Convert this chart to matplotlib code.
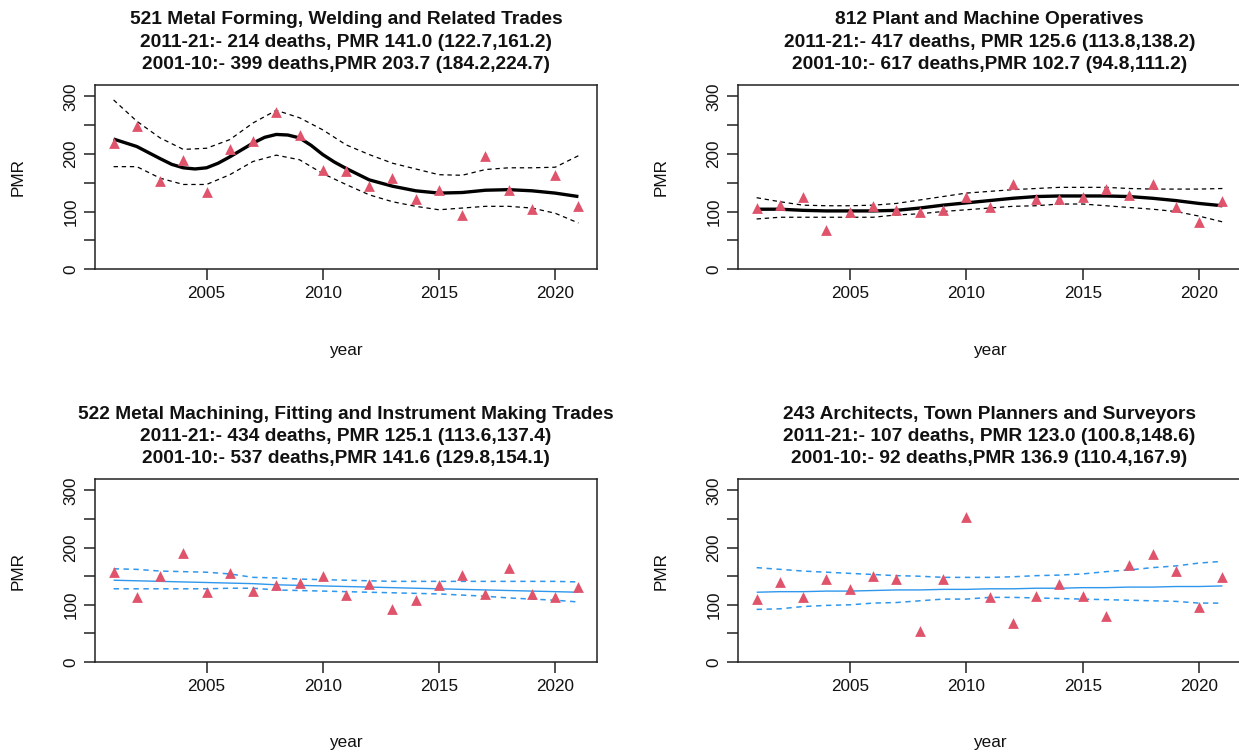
import matplotlib
matplotlib.use("Agg")
import matplotlib.pyplot as plt

plt.rcParams['font.family'] = ['Liberation Sans', 'DejaVu Sans']

years = list(range(2001, 2022))

# ---- Panel 1: 521 Metal Forming ----
title1 = ["521 Metal Forming, Welding and Related Trades",
          "2011-21:- 214 deaths, PMR 141.0 (122.7,161.2)",
          "2001-10:- 399 deaths,PMR 203.7 (184.2,224.7)"]
pmr1 = [220, 248, 153, 189, 134, 208, 223, 273, 233, 173, 171, 144, 158, 121, 138, 94, 196, 138, 105, 163, 110]
fit1_x = [2001, 2002, 2003, 2003.5, 2004, 2004.5, 2005, 2005.5, 2006, 2006.5, 2007, 2007.5, 2008, 2008.5,
          2009, 2009.5, 2010, 2010.5, 2011, 2012, 2013, 2014, 2015, 2016, 2017, 2018, 2019, 2020, 2021]
fit1 = [226, 213, 192, 182, 176, 174, 176, 184, 195, 207, 219, 229, 234, 233,
        228, 215, 199, 186, 175, 155, 144, 136, 132, 133, 137, 138, 136, 132, 126]
up1 = [294, 257, 228, 208, 210, 225, 254, 276, 263, 242, 216, 199, 184, 174, 164, 163, 173, 176, 176, 177, 197]
lo1 = [178, 178, 158, 147, 147, 164, 187, 198, 190, 166, 147, 129, 117, 109, 103, 106, 109, 109, 106, 97, 80]

# ---- Panel 2: 812 Plant and Machine Operatives ----
title2 = ["812 Plant and Machine Operatives",
          "2011-21:- 417 deaths, PMR 125.6 (113.8,138.2)",
          "2001-10:- 617 deaths,PMR 102.7 (94.8,111.2)"]
pmr2 = [106, 111, 126, 68, 99, 109, 103, 100, 103, 125, 108, 148, 122, 122, 125, 139, 129, 148, 107, 81, 118]
fit2 = [104, 104, 102, 101, 101, 101, 102, 106, 111, 115, 119, 123, 126, 127, 127, 127, 126, 123, 119, 114, 110]
up2 = [124, 117, 111, 110, 110, 111, 114, 120, 126, 132, 135, 138, 140, 142, 142, 142, 140, 139, 139, 139, 140]
lo2 = [87, 90, 90, 90, 90, 90, 94, 96, 100, 103, 106, 109, 110, 113, 113, 110, 107, 104, 100, 92, 82]

# ---- Panel 3: 522 Metal Machining ----
title3 = ["522 Metal Machining, Fitting and Instrument Making Trades",
          "2011-21:- 434 deaths, PMR 125.1 (113.6,137.4)",
          "2001-10:- 537 deaths,PMR 141.6 (129.8,154.1)"]
pmr3 = [158, 113, 150, 190, 122, 155, 125, 134, 138, 151, 117, 137, 93, 108, 135, 153, 119, 165, 119, 113, 132]
fit3 = [143, 142, 141, 140, 139, 138, 137, 135, 134, 133, 132, 131, 130, 129, 128, 127, 126, 125, 124, 123, 122]
up3 = [163, 162, 159, 158, 157, 154, 148, 147, 145, 144, 143, 142, 141, 141, 141, 141, 141, 141, 141, 141, 140]
lo3 = [128, 128, 128, 128, 128, 129, 129, 126, 125, 124, 123, 122, 121, 120, 119, 117, 115, 112, 110, 108, 105]

# ---- Panel 4: 243 Architects ----
title4 = ["243 Architects, Town Planners and Surveyors",
          "2011-21:- 107 deaths, PMR 123.0 (100.8,148.6)",
          "2001-10:- 92 deaths,PMR 136.9 (110.4,167.9)"]
pmr4 = [110, 140, 113, 146, 127, 150, 146, 55, 146, 253, 113, 68, 115, 137, 115, 81, 170, 189, 160, 97, 149]
fit4 = [122, 123, 123, 124, 124, 125, 126, 126, 127, 127, 128, 128, 129, 129, 130, 130, 131, 131, 132, 132, 133]
up4 = [165, 162, 159, 157, 155, 153, 151, 150, 148, 148, 148, 149, 151, 152, 154, 158, 161, 165, 168, 173, 176]
lo4 = [92, 93, 97, 99, 100, 103, 104, 107, 110, 110, 113, 113, 112, 111, 110, 109, 108, 107, 106, 103, 103]

POINT_COL = "#DF536B"
BLUE = "#2F97EC"
W, H = 1239, 756

fig = plt.figure(figsize=(W / 100, H / 100), dpi=100)


def px_axes(l, r, t, b):
    return fig.add_axes([l / W, 1 - b / H, (r - l) / W, (b - t) / H])


def panel(l, r, t, b, titles, pmr, fx, fit, up, lo, col, fit_lw, ci_lw):
    ax = px_axes(l, r, t, b)
    ax.plot(fx, fit, color=col, lw=fit_lw, solid_capstyle='butt', zorder=2)
    ax.plot(years, up, color=col, lw=ci_lw, dashes=(3.5, 3), zorder=2)
    ax.plot(years, lo, color=col, lw=ci_lw, dashes=(3.5, 3), zorder=2)
    ax.scatter(years, pmr, marker='^', s=60, color=POINT_COL, linewidths=0, zorder=3)
    ax.set_xlim(2000.2, 2021.8)
    ax.set_ylim(0, 320)
    ax.set_xticks([2005, 2010, 2015, 2020])
    ax.set_yticks([0, 50, 100, 150, 200, 250, 300])
    ax.set_yticklabels(["0", "", "100", "", "200", "", "300"], rotation=90, va='center')
    ax.tick_params(direction='out', length=8, width=1.1, labelsize=12.3, color='#222222',
                   labelcolor='#111111', pad=4)
    for s in ax.spines.values():
        s.set_linewidth(1.1)
        s.set_color('#222222')
    cx = (l + r) / 2
    for i, line in enumerate(titles):
        fig.text(cx / W, 1 - (t - 65 + 22.4 * i) / H, line, ha='center', va='center',
                 fontsize=13.8, fontweight='bold', color='#111111')
    fig.text((l - 77) / W, 1 - ((t + b) / 2) / H, "PMR", rotation=90, ha='center', va='center',
             fontsize=12.3, color='#111111')
    fig.text(cx / W, 1 - (b + 81) / H, "year", ha='center', va='center', fontsize=12.3, color='#111111')
    return ax


panel(95, 597, 85, 269, title1, pmr1, fit1_x, fit1, up1, lo1, 'black', 2.4, 0.9)
panel(738, 1241, 85, 269, title2, pmr2, years, fit2, up2, lo2, 'black', 2.4, 0.9)
panel(95, 597, 479, 662, title3, pmr3, years, fit3, up3, lo3, BLUE, 1.0, 1.1)
panel(738, 1241, 479, 662, title4, pmr4, years, fit4, up4, lo4, BLUE, 1.0, 1.1)

fig.savefig("out.png", dpi=100)
